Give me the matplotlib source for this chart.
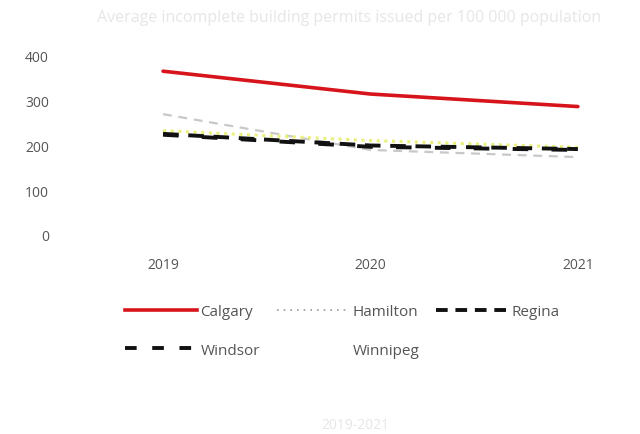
import matplotlib.pyplot as plt
from matplotlib.lines import Line2D

years = [2019, 2020, 2021]
year_labels = ["2019", "2020", "2021"]

calgary = [366, 315, 287]
hamilton = [270, 190, 174]
regina = [226, 200, 192]
windsor = [224, 197, 190]
winnipeg = [233, 211, 196]

title = "Average incomplete building permits issued per 100 000 population"
note = "2019-2021"

plt.rcParams["font.family"] = ["Open Sans", "DejaVu Sans"]

fig = plt.figure(figsize=(6.4, 4.35), dpi=100)
ax = fig.add_axes([0.094, 0.4575, 0.89, 0.4115])

ax.plot(years, calgary, color="#d7141c", lw=2.6, solid_capstyle="round")
ax.plot(years, hamilton, color="#c8c8c8", lw=1.6, ls=(0, (4, 3)))
ax.plot(years, winnipeg, color="#e8f07a", lw=2.2, ls=(0, (1, 1.5)))
ax.plot(years, regina, color="#111111", lw=2.8, ls=(0, (4, 2.5)))
ax.plot(years, windsor, color="#111111", lw=2.8, ls=(0, (4, 6)))

ax.set_xlim(2018.504, 2021.25)
ax.set_ylim(0, 400)
ax.set_xticks(years)
ax.set_xticklabels(year_labels)
ax.set_yticks([0, 100, 200, 300, 400])
ax.tick_params(length=0, labelsize=10, colors="#555555")
ax.tick_params(axis="x", pad=16)
ax.tick_params(axis="y", pad=8)
for s in ax.spines.values():
    s.set_visible(False)

fig.text(0.545, 0.958, title, ha="center", va="center", fontsize=11.5, color="#e6e6e6")
fig.text(0.555, 0.022, note, ha="center", va="center", fontsize=10, color="#e6e6e6")

# legend, column-major order so rows read Calgary/Hamilton/Regina, Windsor/Winnipeg
handles = {
    "Calgary": Line2D([], [], color="#d7141c", lw=2.6),
    "Hamilton": Line2D([], [], color="#999999", lw=1.2, ls=(0, (1, 3))),
    "Regina": Line2D([], [], color="#111111", lw=2.8, ls=(0, (3, 2))),
    "Windsor": Line2D([], [], color="#111111", lw=2.8, ls=(0, (3, 4))),
    "Winnipeg": Line2D([], [], color="white", lw=2),
}
order = ["Calgary", "Windsor", "Hamilton", "Winnipeg", "Regina"]
fig.legend([handles[n] for n in order], order, ncol=3, loc="center",
           bbox_to_anchor=(0.535, 0.237), frameon=False, fontsize=11,
           handlelength=4.7, handletextpad=0.25, columnspacing=1.1,
           labelspacing=1.55, labelcolor="#555555")

fig.savefig("out.png", dpi=100)
